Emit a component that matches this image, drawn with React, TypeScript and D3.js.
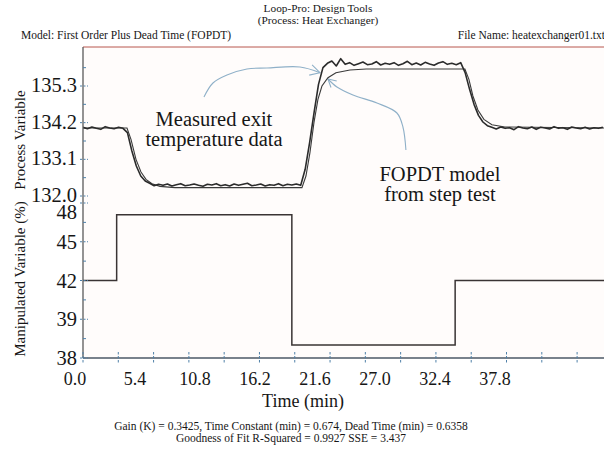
import React from 'react';
import * as d3 from 'd3';

const W = 604;
const H = 452;

// ---- text content ----
const titleLines = ['Loop-Pro: Design Tools', '(Process: Heat Exchanger)'];
const modelLabel = 'Model: First Order Plus Dead Time (FOPDT)';
const fileLabel = 'File Name: heatexchanger01.txt';
const footerLines = [
  'Gain (K) = 0.3425, Time Constant (min) = 0.674, Dead Time (min) = 0.6358',
  'Goodness of Fit R-Squared = 0.9927 SSE = 3.437',
];
const xAxisTitle = 'Time (min)';
const pvAxisTitle = 'Process Variable';
const mvAxisTitle = 'Manipulated Variable (%)';

// ---- axes ----
const timeDomain = [0, 46.9];
const xTickLabels = [0.0, 5.4, 10.8, 16.2, 21.6, 27.0, 32.4, 37.8];
const xMarkStep = 3.177;
const xMarkCount = 15;
const pvTickValues = [132.0, 133.1, 134.2, 135.3];
const pvMinorTicks = [132.55, 133.65, 134.75, 135.85];
const mvTickValues = [36, 39, 42, 45, 48];
const mvTickLabels = ['38', '39', '42', '45', '48'];
const mvMinorTicks = [37.5, 40.5, 43.5, 46.5];

// ---- data ----
const sampleStep = 0.4; // min between measured samples
const pvMeasured = [
  134.06, 134.02, 134.07, 134.03, 134.0, 134.08, 134.04, 134.02, 134.06, 134.03,
  133.9, 133.35, 132.9, 132.6, 132.45, 132.38,
  132.31, 132.35, 132.32, 132.36, 132.3, 132.34, 132.37, 132.31, 132.33, 132.36,
  132.32, 132.29, 132.35, 132.33, 132.37, 132.31, 132.34, 132.3, 132.36, 132.32,
  132.35, 132.38, 132.31, 132.33, 132.36, 132.3, 132.34, 132.32, 132.37, 132.31,
  132.35, 132.33, 132.36, 132.32,
  132.8, 133.6, 134.5, 135.35, 135.85, 135.98,
  136.05, 135.9, 136.12, 135.95, 136.0, 135.92, 135.97, 136.02, 135.94, 135.96,
  136.03, 135.93, 135.98, 135.95, 136.0, 135.92, 135.97, 136.04, 135.94, 135.99,
  135.93, 136.01, 135.96, 135.92, 135.99, 136.03, 135.95, 135.98, 135.94, 136.0,
  135.7, 135.2, 134.75, 134.42, 134.22, 134.11,
  134.06, 134.01, 134.07, 134.03, 134.05, 133.99, 134.08, 134.04, 134.02, 134.07,
  134.0, 134.06, 134.04, 134.01, 134.08, 134.03, 134.05, 134.0, 134.07, 134.04,
  134.02, 134.06, 134.01, 134.05, 134.03, 134.06,
];
const pvModelTime = [
  0, 3.96, 4.32, 4.77, 5.22, 5.67, 6.21, 6.93, 8.28, 19.71, 20.07, 20.43, 20.79, 21.15,
  21.51, 22.05, 22.77, 24.03, 25.5, 34.38, 34.74, 35.1, 35.55, 36.09, 36.81, 37.98, 46.9,
];
const pvModelValue = [
  134.04, 134.04, 133.7, 133.1, 132.72, 132.5, 132.37, 132.29, 132.25, 132.25, 132.6,
  133.3, 134.2, 134.9, 135.3, 135.55, 135.7, 135.78, 135.81, 135.81, 135.5, 135.0,
  134.58, 134.3, 134.14, 134.07, 134.04,
];
const mvTime = [0, 3.03, 18.8, 33.5, 46.9];
const mvValue = [42, 47.1, 37.0, 42, 42];

// ---- annotations (in data coordinates) ----
const arrow1Time = [10.89, 11.7, 12.96, 14.76, 16.56, 19.53, 21.33];
const arrow1Value = [134.97, 135.39, 135.63, 135.81, 135.84, 135.87, 135.7];
const arrow2Time = [29.07, 28.8, 28.26, 26.46, 24.3, 22.86, 22.05];
const arrow2Value = [133.38, 134.07, 134.49, 134.79, 135.03, 135.27, 135.51];
const noteMeasured = ['Measured exit', 'temperature data'];
const noteMeasuredPos = { t: 11.79, v: [134.1, 133.5] };
const noteModel = ['FOPDT model', 'from step test'];
const noteModelPos = { t: 32.13, v: [132.45, 131.85] };

const SERIF = "'Liberation Serif', 'Times New Roman', serif";
const T = (size: number): React.CSSProperties => ({ fontFamily: SERIF, fontSize: size });

export default function App() {
  const left = 83;
  const right = W;
  const top = 47;
  const split = 200;
  const bottom = 358;

  const x = d3.scaleLinear().domain(timeDomain).range([left, right]);
  const yPV = d3.scaleLinear().domain([132.0, 135.3]).range([196, 86]);
  const yMV = d3.scaleLinear().domain([36, 48]).range([bottom, 203]);

  const measuredPts = pvMeasured.map((v, i) => [i * sampleStep, v] as [number, number]);
  const modelPts = pvModelTime.map((t, i) => [t, pvModelValue[i]] as [number, number]);
  const mvPts = mvTime.map((t, i) => [t, mvValue[i]] as [number, number]);

  const pvLine = d3
    .line<[number, number]>()
    .x((d) => x(d[0]))
    .y((d) => yPV(d[1]));
  const mvLine = d3
    .line<[number, number]>()
    .x((d) => x(d[0]))
    .y((d) => yMV(d[1]))
    .curve(d3.curveStepAfter);
  const annLine = d3
    .line<[number, number]>()
    .x((d) => x(d[0]))
    .y((d) => yPV(d[1]))
    .curve(d3.curveCatmullRom.alpha(0.5));

  const arrow = (ts: number[], vs: number[], len: number) => {
    const pts = ts.map((t, i) => [t, vs[i]] as [number, number]);
    const n = pts.length;
    const tx = x(pts[n - 1][0]);
    const ty = yPV(pts[n - 1][1]);
    const px = x(pts[n - 2][0]);
    const py = yPV(pts[n - 2][1]);
    const ang = Math.atan2(ty - py, tx - px);
    const a1 = ang + Math.PI - 0.5;
    const a2 = ang + Math.PI + 0.5;
    const head = `M${tx + len * Math.cos(a1)},${ty + len * Math.sin(a1)}L${tx},${ty}L${tx + len * Math.cos(a2)},${ty + len * Math.sin(a2)}`;
    return { body: annLine(pts) || '', head };
  };
  const arr1 = arrow(arrow1Time, arrow1Value, 11);
  const arr2 = arrow(arrow2Time, arrow2Value, 9);

  const tickColor = '#4f80a8';
  const annColor = '#8fb0c8';
  const ink = '#161616';
  const xMarks = d3.range(xMarkCount).map((i) => i * xMarkStep);

  return (
    <svg
      width={W}
      height={H}
      viewBox={`0 0 ${W} ${H}`}
      style={{ position: 'absolute', left: 0, top: 0, background: '#fff' }}
    >
      <defs>
        <clipPath id="pvClip">
          <rect x={left} y={top} width={right - left} height={split - top} />
        </clipPath>
        <clipPath id="mvClip">
          <rect x={left} y={split} width={right - left} height={bottom - split + 2} />
        </clipPath>
      </defs>

      {/* header */}
      <text x={318} y={12} textAnchor="middle" style={T(11.3)} fill={ink}>
        {titleLines[0]}
      </text>
      <text x={318} y={23.5} textAnchor="middle" style={T(11.3)} fill={ink}>
        {titleLines[1]}
      </text>
      <text x={21} y={38.5} style={T(11.5)} fill={ink}>
        {modelLabel}
      </text>
      <text x={605} y={38.5} textAnchor="end" style={T(11.5)} fill={ink}>
        {fileLabel}
      </text>

      {/* plot area */}
      <rect x={left} y={top} width={right - left} height={bottom - top} fill="#fffcfb" />
      <line x1={left} x2={right} y1={top} y2={top} stroke="#b8574e" strokeWidth={1} />

      {/* annotations */}
      <path d={arr1.body} fill="none" stroke={annColor} strokeWidth={1.1} />
      <path d={arr1.head} fill="none" stroke={annColor} strokeWidth={1.1} />
      <path d={arr2.body} fill="none" stroke={annColor} strokeWidth={1.1} />
      <path d={arr2.head} fill="none" stroke={annColor} strokeWidth={1.1} />
      {noteMeasured.map((s, i) => (
        <text key={s} x={x(noteMeasuredPos.t)} y={yPV(noteMeasuredPos.v[i])} textAnchor="middle" style={T(20.5)} fill={ink}>
          {s}
        </text>
      ))}
      {noteModel.map((s, i) => (
        <text key={s} x={x(noteModelPos.t)} y={yPV(noteModelPos.v[i])} textAnchor="middle" style={T(20.5)} fill={ink}>
          {s}
        </text>
      ))}

      {/* PV lines */}
      <g clipPath="url(#pvClip)">
        <path d={pvLine(modelPts) || ''} fill="none" stroke="#3a3a3a" strokeWidth={1.1} />
        <path d={pvLine(measuredPts) || ''} fill="none" stroke="#2b2b2b" strokeWidth={1.6} strokeLinejoin="round" />
      </g>

      {/* MV line */}
      <g clipPath="url(#mvClip)">
        <path d={mvLine(mvPts) || ''} fill="none" stroke="#3a3434" strokeWidth={1.5} />
      </g>

      {/* axes lines */}
      <line x1={left} x2={left} y1={top} y2={bottom} stroke="#5a5a5a" strokeWidth={1.3} />
      <line x1={left} x2={right} y1={bottom} y2={bottom} stroke="#4c5866" strokeWidth={1.5} />

      {/* x tick marks */}
      {xMarks.map((t, i) => (
        <line key={i} x1={x(t)} x2={x(t)} y1={bottom - 6} y2={bottom + 5} stroke={tickColor} strokeWidth={1} strokeDasharray="2.5,1.5" />
      ))}
      {/* x tick labels */}
      {xTickLabels.map((v) => (
        <text key={v} x={x(v) - 8} y={385} textAnchor="middle" style={T(18)} fill={ink}>
          {v.toFixed(1)}
        </text>
      ))}
      <text x={303} y={407} textAnchor="middle" style={T(18)} fill={ink}>
        {xAxisTitle}
      </text>

      {/* PV y ticks */}
      {pvTickValues.map((v) => (
        <g key={v}>
          <line x1={left - 3} x2={left + 5} y1={yPV(v)} y2={yPV(v)} stroke={tickColor} strokeWidth={1} strokeDasharray="2,1.5" />
          <text x={77} y={yPV(v) + 6} textAnchor="end" style={T(20.5)} fill={ink}>
            {v.toFixed(1)}
          </text>
        </g>
      ))}
      {pvMinorTicks.map((v) => (
        <line key={v} x1={left} x2={left + 3} y1={yPV(v)} y2={yPV(v)} stroke={tickColor} strokeWidth={1} />
      ))}
      {/* MV y ticks */}
      {mvTickValues.map((v, i) => (
        <g key={v}>
          <line x1={left - 3} x2={left + 5} y1={yMV(v)} y2={yMV(v)} stroke={tickColor} strokeWidth={1} strokeDasharray="2,1.5" />
          <text x={77} y={Math.max(yMV(v), split + 12) + 7} textAnchor="end" style={T(20.5)} fill={ink}>
            {mvTickLabels[i]}
          </text>
        </g>
      ))}
      {mvMinorTicks.map((v) => (
        <line key={v} x1={left} x2={left + 3} y1={yMV(v)} y2={yMV(v)} stroke={tickColor} strokeWidth={1} />
      ))}

      {/* axis titles */}
      <text transform={`translate(25,140) rotate(-90)`} textAnchor="middle" style={T(15)} fill={ink}>
        {pvAxisTitle}
      </text>
      <text transform={`translate(25,279) rotate(-90)`} textAnchor="middle" style={T(15)} fill={ink}>
        {mvAxisTitle}
      </text>

      {/* footer */}
      <text x={291} y={430} textAnchor="middle" style={T(11.5)} fill={ink}>
        {footerLines[0]}
      </text>
      <text x={291} y={441.5} textAnchor="middle" style={T(11.5)} fill={ink}>
        {footerLines[1]}
      </text>
    </svg>
  );
}
